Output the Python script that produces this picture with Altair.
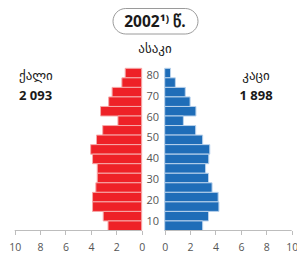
import altair as alt
import pandas as pd

# ---- data (percent of total population, 5-year age groups, top to bottom) ----
age_start = [80, 75, 70, 65, 60, 55, 50, 45, 40, 35, 30, 25, 20, 15, 10, 5, 0]
female = [1.3, 1.56, 2.33, 2.6, 3.24, 1.87, 3.07, 3.56, 4.02, 3.87, 3.5, 3.5, 3.61, 3.87, 3.87, 3.03, 2.65]
male = [0.46, 0.84, 1.62, 2.0, 2.46, 1.47, 2.44, 2.99, 3.55, 3.47, 3.22, 3.45, 3.73, 4.21, 4.27, 3.45, 2.99]
age_labels = [10, 20, 30, 40, 50, 60, 70, 80]
tick_labels = [0, 2, 4, 6, 8, 10]

title_text = "2002¹⁾ წ."
age_title = "ასაკი"
female_title, female_total = "ქალი", "2 093"
male_title, male_total = "კაცი", "1 898"

# ---- layout constants ----
G = 0.9055  # half gap between the two zero points (in axis units)
XDOM = [-11.433, 11.323]
YDOM = [0, 116.6]
LDOM = [5.85, 112.5]
W, H = 289, 222.5
FONT = "Open Sans"
GEO = "DejaVu Sans"
RED, RED_S = "#ee2127", "#f6a9a9"
BLUE, BLUE_S = "#1f6db8", "#b9d2ec"

df = pd.DataFrame({"age": age_start, "female": female, "male": male})

tick_vals = [-(v + G) for v in tick_labels] + [v + G for v in tick_labels]
xaxis = alt.Axis(values=tick_vals, labelExpr=f"round(abs(datum.value) - {G})",
                 domain=False, grid=False, ticks=True, tickSize=4, tickColor="#bdbdbd",
                 labelColor="#555555", labelFontSize=10.5, labelFont=FONT, labelPadding=8,
                 title=None, labelFlush=False)
xs = alt.Scale(domain=XDOM, nice=False, zero=False)
ys = alt.Scale(domain=YDOM, nice=False, zero=False)

base = alt.Chart(df).transform_calculate(
    fx0=f"-{G} - datum.female", fx1=f"-{G}",
    mx0=f"{G}", mx1=f"{G} + datum.male",
    age2="datum.age + 5")

fem = base.mark_rect(color=RED, stroke=RED_S, strokeWidth=1).encode(
    x=alt.X("fx0:Q", scale=xs, axis=xaxis), x2="fx1:Q",
    y=alt.Y("age:Q", scale=ys, axis=None), y2="age2:Q")
mal = base.mark_rect(color=BLUE, stroke=BLUE_S, strokeWidth=1).encode(
    x=alt.X("mx0:Q", scale=xs, axis=xaxis), x2="mx1:Q",
    y=alt.Y("age:Q", scale=ys, axis=None), y2="age2:Q")

dom = pd.DataFrame({"a": [-(max(tick_labels) + G), G], "b": [-G, max(tick_labels) + G], "y": [0, 0]})
rules = alt.Chart(dom).mark_rule(color="#bdbdbd", strokeWidth=1).encode(
    x=alt.X("a:Q", scale=xs, axis=xaxis), x2="b:Q",
    y=alt.Y("y:Q", scale=ys, axis=None))

lab = alt.Chart(pd.DataFrame({"age": age_labels})).mark_text(
    font=FONT, fontSize=11, color="#555555", align="center", baseline="middle").encode(
    x=alt.X("x:Q", scale=xs, axis=xaxis),
    y=alt.Y("age:Q", scale=alt.Scale(domain=LDOM, nice=False, zero=False), axis=None),
    text="age:Q").transform_calculate(x="-0.04")


def note(txt, px, py, size, bold=False, align="center", color="#1a1a1a", font=FONT):
    return alt.Chart(alt.Data(values=[{"t": txt}])).mark_text(
        font=font, fontSize=size, fontWeight="bold" if bold else "normal",
        align=align, baseline="middle", color=color).encode(
        x=alt.value(px), y=alt.value(py), text="t:N")


box = alt.Chart(alt.Data(values=[{"t": 1}])).mark_rect(
    fill="white", stroke="#9a9a9a", strokeWidth=1, cornerRadius=13).encode(
    x=alt.value(105), x2=alt.value(190), y=alt.value(0.5), y2=alt.value(26))

chart = alt.layer(
    fem, mal, rules, lab, box,
    note(title_text, 147, 13.5, 15.5, bold=True),
    note(age_title, 147, 40.5, 13, font=GEO),
    note(female_title, 11, 68, 13, align="left", font=GEO),
    note(female_total, 11, 88, 13, bold=True, align="left"),
    note(male_title, 248, 68, 13, font=GEO),
    note(male_total, 248, 88, 13, bold=True),
).resolve_scale(y="independent").properties(
    width=W, height=H, autosize=alt.AutoSizeParams(type="none"),
    padding={"left": 0, "top": 0, "right": 0, "bottom": 24}
).configure_view(stroke=None)

chart.save("out.html", embed_options={"renderer": "svg", "actions": False})
